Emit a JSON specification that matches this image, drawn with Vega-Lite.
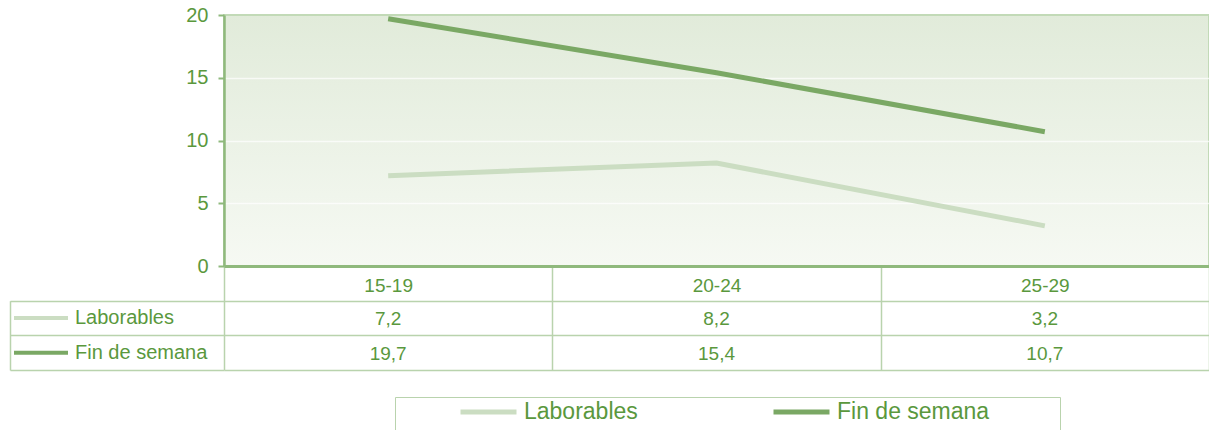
{
  "$schema": "https://vega.github.io/schema/vega-lite/v6.json",
  "autosize": {"type": "none"},
  "width": 985,
  "height": 251,
  "padding": {"left": 224, "top": 15, "right": 0, "bottom": 164},
  "background": "white",
  "data": {
    "values": [
      {"age": "15-19", "serie": "Laborables", "value": 7.2},
      {"age": "20-24", "serie": "Laborables", "value": 8.2},
      {"age": "25-29", "serie": "Laborables", "value": 3.2},
      {"age": "15-19", "serie": "Fin de semana", "value": 19.7},
      {"age": "20-24", "serie": "Fin de semana", "value": 15.4},
      {"age": "25-29", "serie": "Fin de semana", "value": 10.7}
    ]
  },
  "encoding": {
    "x": {
      "field": "age",
      "type": "ordinal",
      "sort": ["15-19", "20-24", "25-29"],
      "scale": {"type": "band", "paddingInner": 0, "paddingOuter": 0},
      "axis": {
        "title": null,
        "labelAngle": 0,
        "tickBand": "extent",
        "tickSize": 104,
        "tickColor": "#b9d3ad",
        "tickWidth": 1.5,
        "domainColor": "#8fb97c",
        "domainWidth": 3,
        "labelFontSize": 19,
        "labelColor": "#5a983d",
        "labelBaseline": "middle",
        "labelPadding": -85,
        "labelOverlap": false,
        "grid": false
      }
    }
  },
  "layer": [
    {
      "mark": {"type": "line", "strokeWidth": 5, "strokeCap": "butt"},
      "encoding": {
        "y": {
          "field": "value",
          "type": "quantitative",
          "scale": {"domain": [0, 20]},
          "axis": {
            "values": [0, 5, 10, 15, 20],
            "title": null,
            "tickSize": 6,
            "tickColor": "#8fb97c",
            "tickWidth": 2,
            "domainColor": "#8fb97c",
            "domainWidth": 2.5,
            "labelFontSize": 20,
            "labelColor": "#5a983d",
            "labelPadding": 10,
            "grid": true,
            "gridColor": "#ffffff",
            "gridWidth": 1.5,
            "gridOpacity": {"condition": {"test": "datum.value === 0 || datum.value === 20", "value": 0}, "value": 0.7}
          }
        },
        "color": {
          "field": "serie",
          "type": "nominal",
          "scale": {"domain": ["Laborables", "Fin de semana"], "range": ["#cbddc2", "#7aa864"]},
          "legend": {
            "orient": "none",
            "legendX": 171,
            "legendY": 382,
            "direction": "horizontal",
            "title": " ",
            "titleOrient": "right",
            "titleFontSize": 60,
            "titlePadding": 69,
            "padding": 2,
            "strokeColor": "#b9d3ad",
            "fillColor": "#ffffff",
            "symbolType": "stroke",
            "symbolSize": 3136,
            "symbolStrokeWidth": 5,
            "symbolOpacity": 1,
            "symbolOffset": 61,
            "labelOffset": 5,
            "labelFontSize": 23,
            "labelColor": "#5a983d",
            "labelLimit": 400,
            "columnPadding": 72,
            "clipHeight": 26
          }
        }
      }
    },
    {
      "mark": {"type": "line", "strokeWidth": 4, "opacity": 0},
      "encoding": {
        "y": {"field": "value", "type": "quantitative", "scale": {"domain": [0, 20]}, "axis": null},
        "color": {
          "field": "serie",
          "type": "nominal",
          "scale": {"domain": ["Laborables", "Fin de semana"], "range": ["#cbddc2", "#7aa864"]},
          "legend": {
            "orient": "none",
            "legendX": -212,
            "legendY": 293,
            "direction": "vertical",
            "title": null,
            "padding": 0,
            "symbolType": "stroke",
            "symbolSize": 2916,
            "symbolStrokeWidth": 4,
            "symbolOpacity": 1,
            "labelOffset": 5,
            "labelFontSize": 20,
            "labelColor": "#5a983d",
            "labelLimit": 300,
            "rowPadding": 14.7,
            "clipHeight": 20
          }
        }
      }
    },
    {
      "mark": {"type": "text", "fontSize": 19, "color": "#5a983d", "dy": 1},
      "encoding": {
        "y": {
          "field": "serie",
          "type": "nominal",
          "sort": ["Laborables", "Fin de semana"],
          "scale": {"type": "band", "domain": ["Laborables", "Fin de semana"], "range": [285.7, 355], "paddingInner": 0, "paddingOuter": 0},
          "axis": {
            "orient": "left",
            "offset": 214,
            "title": null,
            "labels": false,
            "tickBand": "extent",
            "tickSize": -214,
            "tickColor": "#b9d3ad",
            "tickWidth": 1.5,
            "domainColor": "#b9d3ad",
            "domainWidth": 1.5,
            "grid": true,
            "gridColor": "#b9d3ad",
            "gridWidth": 1.5,
            "gridOpacity": 1
          }
        },
        "text": {"field": "value", "type": "quantitative", "format": ".1f"}
      }
    }
  ],
  "resolve": {"scale": {"y": "independent"}, "legend": {"color": "independent"}},
  "config": {
    "font": "Liberation Sans",
    "locale": {"number": {"decimal": ",", "thousands": ".", "grouping": [3], "currency": ["", " €"]}},
    "view": {
      "fill": {"gradient": "linear", "x1": 0, "y1": 0, "x2": 0, "y2": 1, "stops": [{"offset": 0, "color": "#e1ebda"}, {"offset": 1, "color": "#f6f9f3"}]},
      "stroke": "#c2dab7",
      "strokeWidth": 2
    }
  }
}
